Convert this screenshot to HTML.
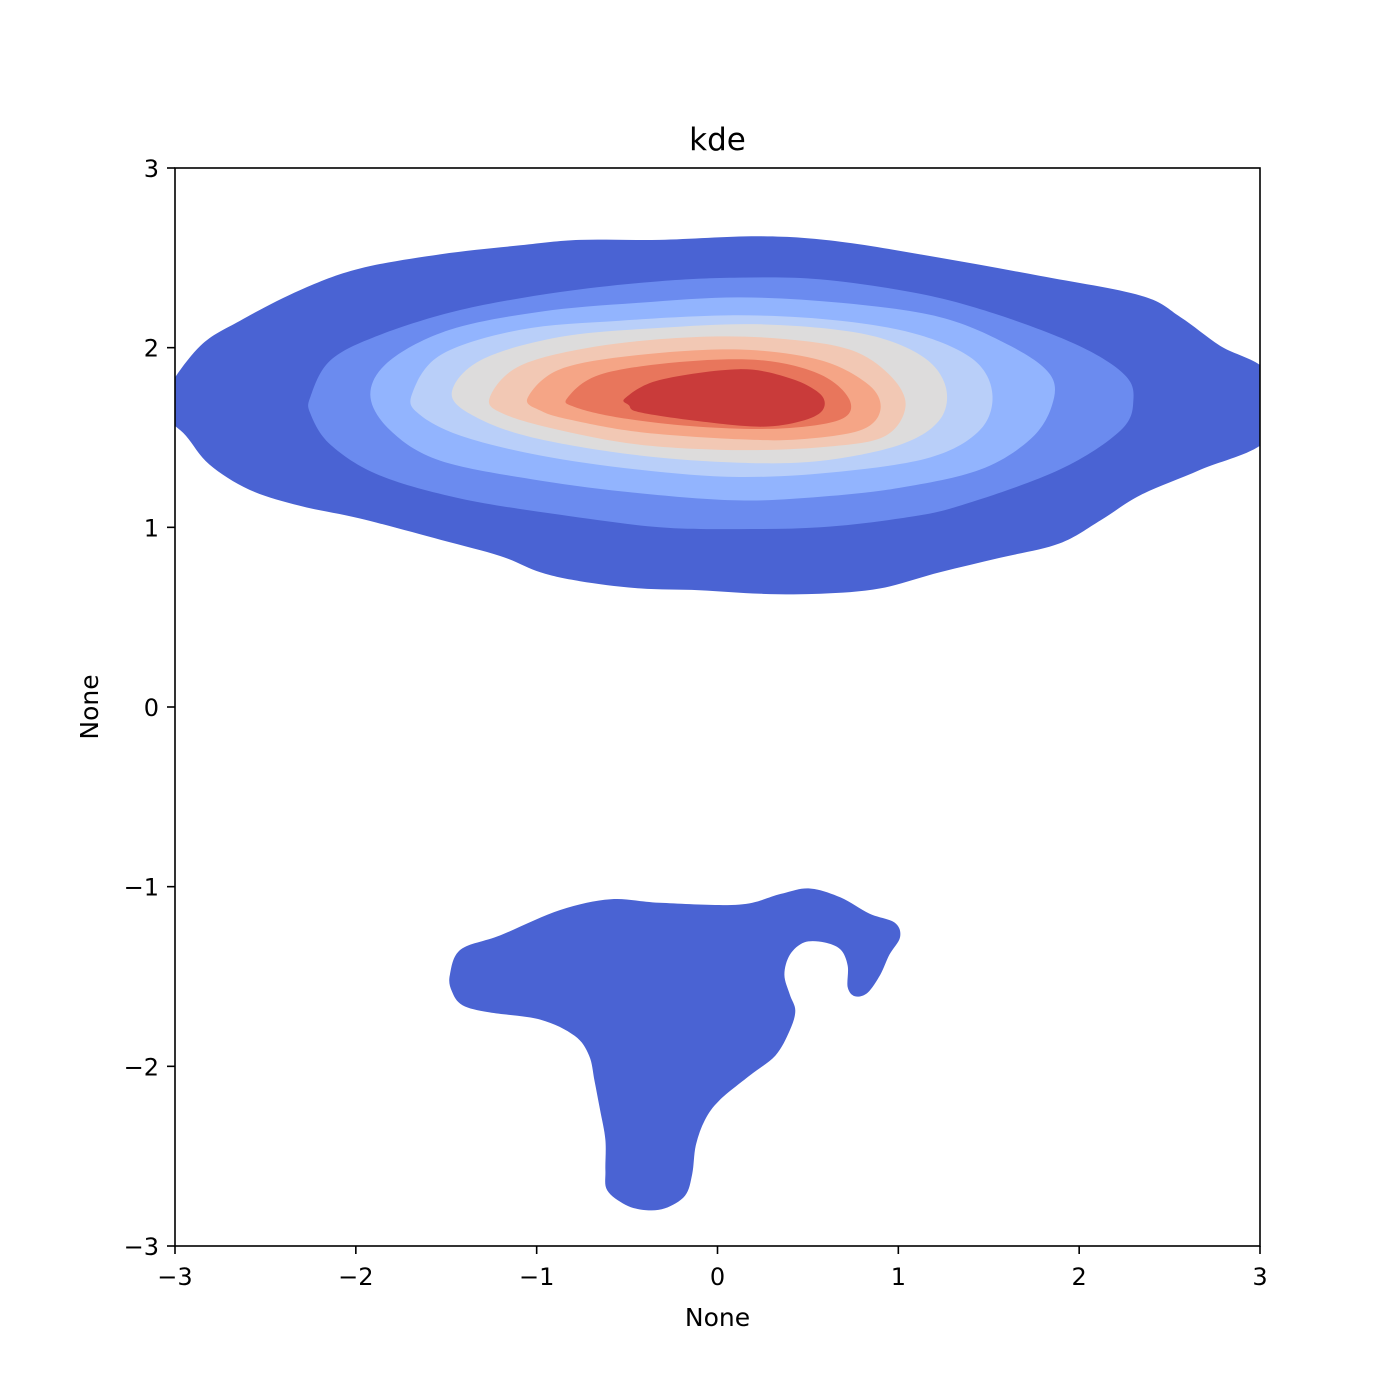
<!DOCTYPE html>
<html><head><meta charset="utf-8">
<style>
body{margin:0;background:#fff;}
svg{display:block;font-family:"DejaVu Sans","Liberation Sans",sans-serif;}
</style></head>
<body>
<svg id="chart" width="1400" height="1400" viewBox="0 0 1400 1400">
<defs><clipPath id="plotclip"><rect x="175" y="168" width="1085" height="1078"/></clipPath></defs>
<rect x="0" y="0" width="1400" height="1400" fill="#fff"/>
<g id="contours" clip-path="url(#plotclip)"></g>
<g id="axes"></g>
</svg>
<script>
const xTicks=[-3,-2,-1,0,1,2,3];
const yTicks=[-3,-2,-1,0,1,2,3];
const levelColors=["#4a63d3","#6b8bef","#92b4fe","#b9cff9","#dddcdc","#f2c8b4","#f5a586","#e8765c","#c93b3a"];
const level1=[[-3.05,1.75],[-2.86,2.01],[-2.64,2.15],[-2.31,2.32],[-1.98,2.44],[-1.53,2.52],[-1.09,2.57],[-0.76,2.60],[-0.32,2.60],[0.24,2.62],[0.68,2.59],[1.23,2.50],[1.78,2.40],[2.34,2.29],[2.56,2.17],[2.78,2.01],[3.05,1.85],[3.05,1.5],[2.67,1.32],[2.34,1.18],[2.12,1.04],[1.89,0.91],[1.56,0.83],[1.23,0.75],[0.90,0.66],[0.57,0.63],[0.24,0.63],[-0.10,0.65],[-0.43,0.66],[-0.76,0.70],[-0.98,0.75],[-1.20,0.84],[-1.53,0.93],[-1.98,1.05],[-2.31,1.12],[-2.59,1.21],[-2.81,1.35],[-2.94,1.51],[-3.05,1.62]];
const level1b=[[-1.48,-1.49],[-1.42,-1.35],[-1.20,-1.27],[-0.87,-1.13],[-0.59,-1.07],[-0.32,-1.09],[0.12,-1.10],[0.35,-1.04],[0.51,-1.01],[0.68,-1.06],[0.84,-1.15],[0.98,-1.20],[1.01,-1.28],[0.95,-1.38],[0.90,-1.49],[0.83,-1.59],[0.76,-1.61],[0.72,-1.56],[0.72,-1.44],[0.68,-1.35],[0.59,-1.31],[0.48,-1.31],[0.40,-1.38],[0.37,-1.49],[0.40,-1.60],[0.43,-1.69],[0.40,-1.80],[0.32,-1.94],[0.18,-2.05],[0.01,-2.19],[-0.07,-2.30],[-0.12,-2.44],[-0.14,-2.60],[-0.18,-2.72],[-0.29,-2.79],[-0.40,-2.80],[-0.51,-2.77],[-0.61,-2.69],[-0.62,-2.58],[-0.62,-2.41],[-0.65,-2.24],[-0.68,-2.08],[-0.71,-1.94],[-0.79,-1.83],[-0.98,-1.74],[-1.26,-1.70],[-1.41,-1.66],[-1.47,-1.58]];
const level2=[[-2.25,1.73],[-2.14,1.93],[-1.87,2.07],[-1.42,2.21],[-0.87,2.31],[-0.32,2.37],[0.12,2.39],[0.57,2.38],[1.12,2.30],[1.56,2.18],[2.00,2.01],[2.25,1.85],[2.30,1.71],[2.23,1.54],[1.89,1.32],[1.34,1.12],[1.01,1.05],[0.57,1.00],[0.12,0.99],[-0.32,1.00],[-0.87,1.07],[-1.42,1.16],[-1.87,1.29],[-2.14,1.46],[-2.25,1.63]];
const level3=[[-1.92,1.74],[-1.81,1.93],[-1.48,2.10],[-0.98,2.20],[-0.43,2.25],[0.12,2.28],[0.68,2.25],[1.23,2.17],[1.62,2.01],[1.84,1.85],[1.85,1.68],[1.73,1.49],[1.45,1.32],[1.01,1.22],[0.57,1.17],[0.12,1.15],[-0.43,1.19],[-0.98,1.26],[-1.53,1.37],[-1.81,1.54]];
const level4=[[-1.69,1.74],[-1.53,1.96],[-1.09,2.10],[-0.54,2.15],[0.12,2.18],[0.68,2.15],[1.12,2.07],[1.42,1.93],[1.52,1.74],[1.45,1.54],[1.18,1.39],[0.68,1.31],[0.12,1.28],[-0.43,1.32],[-0.98,1.40],[-1.42,1.51],[-1.65,1.63]];
const level5=[[-1.47,1.74],[-1.31,1.93],[-0.87,2.06],[-0.32,2.11],[0.24,2.13],[0.79,2.08],[1.12,1.96],[1.26,1.79],[1.23,1.60],[1.01,1.46],[0.57,1.37],[0.12,1.36],[-0.43,1.40],[-0.98,1.49],[-1.31,1.60]];
const level6=[[-1.26,1.72],[-1.09,1.90],[-0.65,2.01],[-0.10,2.06],[0.35,2.05],[0.73,1.99],[0.95,1.85],[1.04,1.68],[0.93,1.51],[0.62,1.45],[0.12,1.43],[-0.43,1.46],[-0.87,1.54],[-1.18,1.63]];
const level7=[[-1.05,1.72],[-0.87,1.88],[-0.43,1.96],[0.12,1.99],[0.57,1.93],[0.84,1.79],[0.90,1.65],[0.79,1.54],[0.46,1.49],[0.12,1.49],[-0.43,1.53],[-0.82,1.60],[-0.98,1.65]];
const level8=[[-0.83,1.72],[-0.65,1.85],[-0.21,1.92],[0.24,1.93],[0.57,1.85],[0.73,1.71],[0.68,1.60],[0.35,1.55],[-0.10,1.56],[-0.54,1.61],[-0.79,1.67]];
const level9=[[-0.51,1.72],[-0.32,1.82],[0.12,1.88],[0.40,1.83],[0.57,1.74],[0.58,1.65],[0.46,1.59],[0.24,1.56],[-0.10,1.59],[-0.43,1.64],[-0.49,1.68]];

const X0=175,X1=1260,Y0=1246,Y1=168;
const sx=v=>X0+(v+3)/6*(X1-X0);
const sy=v=>Y0-(v+3)/6*(Y0-Y1);
const NS="http://www.w3.org/2000/svg";
function smoothPath(pts){
  const p=pts.map(d=>[sx(d[0]),sy(d[1])]);const n=p.length;
  let s="M"+p[0][0].toFixed(1)+","+p[0][1].toFixed(1);
  for(let i=0;i<n;i++){
    const a=p[(i-1+n)%n],b=p[i],c=p[(i+1)%n],d=p[(i+2)%n];
    const c1=[b[0]+(c[0]-a[0])/6,b[1]+(c[1]-a[1])/6];
    const c2=[c[0]-(d[0]-b[0])/6,c[1]-(d[1]-b[1])/6];
    s+="C"+c1[0].toFixed(1)+","+c1[1].toFixed(1)+" "+c2[0].toFixed(1)+","+c2[1].toFixed(1)+" "+c[0].toFixed(1)+","+c[1].toFixed(1);
  }
  return s+"Z";
}
const cg=document.getElementById("contours");
const levels=[[level1,level1b],[level2],[level3],[level4],[level5],[level6],[level7],[level8],[level9]];
levels.forEach((polys,i)=>{
  polys.forEach((poly,j)=>{
    const el=document.createElementNS(NS,"path");
    el.setAttribute("d",smoothPath(poly));
    el.setAttribute("fill",levelColors[i]);
    
    
    cg.appendChild(el);
  });
});
const ag=document.getElementById("axes");
function mk(tag,attrs,text){const e=document.createElementNS(NS,tag);for(const k in attrs)e.setAttribute(k,attrs[k]);if(text!==undefined)e.textContent=text;ag.appendChild(e);return e;}
const frame=mk("rect",{x:X0,y:Y1,width:X1-X0,height:Y0-Y1,fill:"none",stroke:"#000","stroke-width":1.6});


const fmt=v=>v<0?"\u2212"+Math.abs(v):String(v);
xTicks.forEach(v=>{
  const t=mk("line",{x1:sx(v),x2:sx(v),y1:Y0,y2:Y0+8,stroke:"#000","stroke-width":1.6});
  
  
  const l=mk("text",{x:sx(v),y:Y0+39,"text-anchor":"middle","font-size":"24"},fmt(v));
  
  
});
yTicks.forEach(v=>{
  const t=mk("line",{x1:X0-8,x2:X0,y1:sy(v),y2:sy(v),stroke:"#000","stroke-width":1.6});
  
  
  const l=mk("text",{x:X0-16,y:sy(v)+9,"text-anchor":"end","font-size":"24"},fmt(v));
  
  
});
const title=mk("text",{x:(X0+X1)/2,y:150,"text-anchor":"middle","font-size":"31"},"kde");


const xl=mk("text",{x:(X0+X1)/2,y:1326,"text-anchor":"middle","font-size":"25"},"None");


const yl=mk("text",{x:0,y:0,"text-anchor":"middle","font-size":"25",transform:"translate(98,"+((Y0+Y1)/2)+") rotate(-90)"},"None");


</script>
</body></html>
